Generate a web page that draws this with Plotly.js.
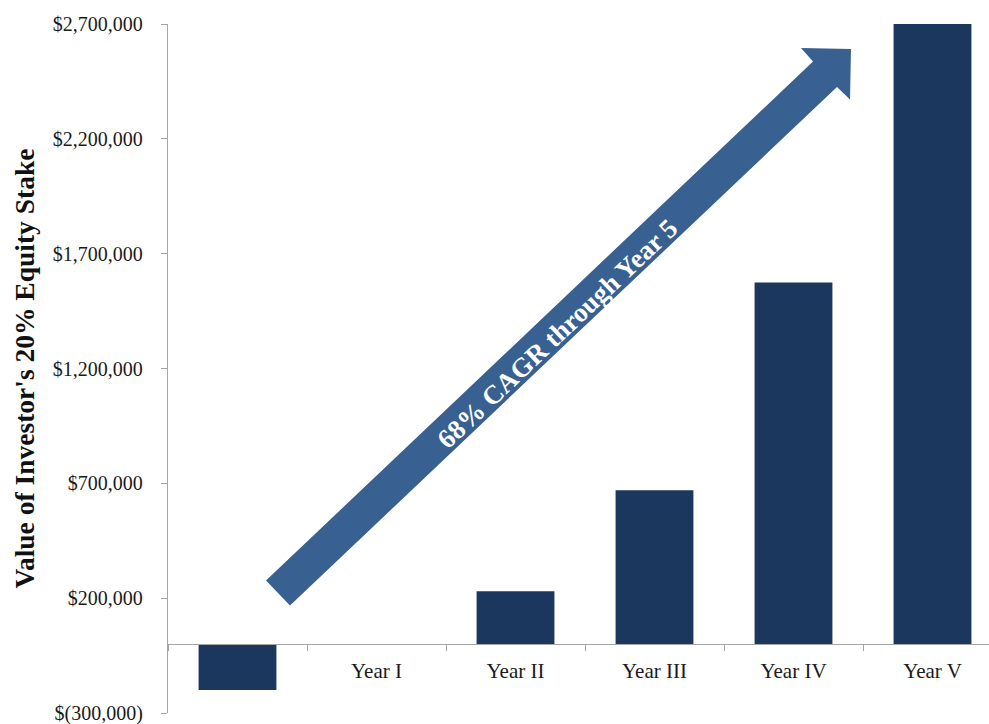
<!DOCTYPE html>
<html>
<head>
<meta charset="utf-8">
<script src="https://cdn.plot.ly/plotly-3.0.1.min.js"></script>
<style>html,body{margin:0;padding:0;background:#fff;overflow:hidden}</style>
</head>
<body>
<div id="chart" style="width:989px;height:724px"></div>
<script>
// ---- data ----
const categories = ["Year 0", "Year I", "Year II", "Year III", "Year IV", "Year V"];
const categoryLabels = ["", "Year I", "Year II", "Year III", "Year IV", "Year V"];
const stakeValues = [-200000, 0, 230000, 670000, 1575000, 2700000];
const yTickValues = [-300000, 200000, 700000, 1200000, 1700000, 2200000, 2700000];
const yAxisTitle = "Value of Investor's 20% Equity Stake";
const arrowLabel = "68% CAGR through Year 5";

function money(v) {
  const s = Math.abs(v).toLocaleString("en-US");
  return v < 0 ? "$(" + s + ")" : "$" + s;
}
const yTickText = yTickValues.map(money);

// ---- layout geometry (pixels) ----
const W = 989, H = 724;
const M = {l: 168, r: 0, t: 24, b: 11};
const plotW = W - M.l - M.r, plotH = H - M.t - M.b;
const px = x => (x - M.l) / plotW;
const py = y => (H - M.b - y) / plotH;

// decorative arrow outline (pixel points -> paper)
const arrowPts = [[266, 580.5], [813, 61.5], [801, 48], [851, 49], [850, 99.5], [837, 87], [290, 605.5]];
const arrowPath = "M " + arrowPts.map(p => px(p[0]).toFixed(5) + "," + py(p[1]).toFixed(5)).join(" L ") + " Z";

const font = "Liberation Serif, Times New Roman, serif";

const trace = {
  type: "bar",
  x: categories,
  y: stakeValues,
  marker: {color: "#1b375e", line: {width: 0}},
  hoverinfo: "x+y"
};

const layout = {
  width: W, height: H,
  margin: M,
  paper_bgcolor: "#ffffff",
  plot_bgcolor: "#ffffff",
  showlegend: false,
  bargap: 0.44,
  font: {family: font, size: 21, color: "#1a1a1a"},
  xaxis: {
    type: "category",
    categoryorder: "array",
    categoryarray: categories,
    tickmode: "array",
    tickvals: categories,
    ticktext: categoryLabels,
    tickson: "boundaries",
    range: [-0.5, -0.5 + plotW / 139],
    anchor: "free",
    position: 0.1,
    showline: true,
    linecolor: "#a6a6a6",
    linewidth: 1.2,
    ticks: "outside",
    ticklen: 6,
    tickcolor: "#a6a6a6",
    ticklabelstandoff: 7,
    showgrid: false,
    zeroline: false,
    tickfont: {family: font, size: 21, color: "#1a1a1a"},
    fixedrange: true
  },
  yaxis: {
    range: [-300000, 2700000],
    tickmode: "array",
    tickvals: yTickValues,
    ticktext: yTickText,
    ticklabeloverflow: "allow",
    showline: true,
    linecolor: "#a6a6a6",
    linewidth: 1.2,
    ticks: "outside",
    ticklen: 6,
    tickcolor: "#a6a6a6",
    showgrid: false,
    zeroline: false,
    ticklabelstandoff: 14,
    tickfont: {family: font, size: 20, color: "#1a1a1a"},
    title: {text: yAxisTitle, standoff: 10, font: {family: font, size: 27.5, color: "#111", weight: "bold"}},
    fixedrange: true
  },
  shapes: [{
    type: "path", xref: "paper", yref: "paper",
    path: arrowPath,
    fillcolor: "#386192",
    line: {width: 0},
    layer: "above"
  }],
  annotations: [{
    xref: "paper", yref: "paper",
    x: px(557), y: py(334),
    text: arrowLabel,
    showarrow: false,
    textangle: -43.5,
    font: {family: font, size: 27, color: "#ffffff", weight: "bold"},
    xanchor: "center", yanchor: "middle"
  }]
};

Plotly.newPlot("chart", [trace], layout, {displayModeBar: false, staticPlot: true});
</script>
</body>
</html>
